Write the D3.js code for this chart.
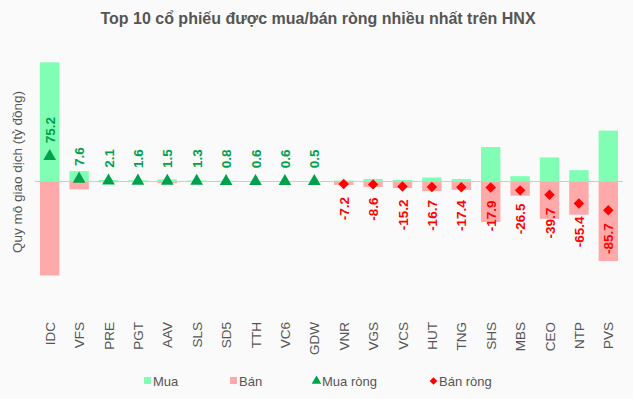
<!DOCTYPE html>
<html><head><meta charset="utf-8">
<script src="https://cdn.jsdelivr.net/npm/d3@7"></script>
<style>body{margin:0;background:#fafafa;}svg{display:block;font-family:"Liberation Sans",Arial,sans-serif;}</style>
</head><body><svg id="c" width="633" height="399"></svg>
<script>
const categories = ["IDC","VFS","PRE","PGT","AAV","SLS","SD5","TTH","VC6","GDW","VNR","VGS","VCS","HUT","TNG","SHS","MBS","CEO","NTP","PVS"];
const buyValues  = [356, 31, 4.5, 3.5, 6.5, 3, 2, 1.5, 1.5, 1.2, 3, 7.5, 4.5, 12, 7.5, 103, 16, 72, 34, 152];
const sellValues = [280.8, 23.4, 2.4, 1.9, 5, 1.7, 1.2, 0.9, 0.9, 0.7, 10.2, 16.1, 19.7, 28.7, 24.9, 120.9, 42.5, 111.7, 99.4, 237.7];
const netValues  = [75.2, 7.6, 2.1, 1.6, 1.5, 1.3, 0.8, 0.6, 0.6, 0.5, -7.2, -8.6, -15.2, -16.7, -17.4, -17.9, -26.5, -39.7, -65.4, -85.7];
const legendLabels = ["Mua","Bán","Mua ròng","Bán ròng"];
const title = "Top 10 cổ phiếu được mua/bán ròng nhiều nhất trên HNX";
const yTitle = "Quy mô giao dịch (tỷ đồng)";

const C = {buy:"#80ffb4", sell:"#ffaaaa", up:"#00a14b", down:"#ff0000", text:"#555"};
const svg = d3.select("#c");
const x = d3.scaleBand().domain(categories).range([35,623]).paddingInner(0.34).paddingOuter(0.17);
const y = d3.scaleLinear().domain([-360,360]).range([302,61]);

svg.append("text").attr("x",318).attr("y",24).attr("text-anchor","middle")
  .attr("font-size",16).attr("font-weight","bold").attr("fill",C.text).text(title);
svg.append("text").attr("transform","translate(22,172) rotate(-90)").attr("text-anchor","middle")
  .attr("font-size",13.5).attr("fill",C.text).text(yTitle);

const g = svg.append("g");
g.selectAll("rect.b").data(categories).join("rect").attr("class","b")
  .attr("x",d=>x(d)).attr("width",x.bandwidth())
  .attr("y",(d,i)=>y(buyValues[i])).attr("height",(d,i)=>y(0)-y(buyValues[i])).attr("fill",C.buy);
g.selectAll("rect.s").data(categories).join("rect").attr("class","s")
  .attr("x",d=>x(d)).attr("width",x.bandwidth())
  .attr("y",y(0)).attr("height",(d,i)=>y(-sellValues[i])-y(0)).attr("fill",C.sell);
g.append("line").attr("x1",35).attr("x2",623).attr("y1",y(0)).attr("y2",y(0)).attr("stroke","#ccc").attr("stroke-width",1);

const tri = d3.symbol().type(d3.symbolTriangle).size(70);
const dia = d3.symbol().type(d3.symbolSquare).size(55);
categories.forEach((c,i)=>{
  const v = netValues[i], cx = x(c)+x.bandwidth()/2, cy = y(v);
  if (v>=0) {
    g.append("path").attr("d",tri()).attr("transform",`translate(${cx},${cy})`).attr("fill",C.up);
    g.append("text").attr("transform",`translate(${cx+5},${cy-13}) rotate(-90)`).attr("text-anchor","start")
      .attr("font-size",13.5).attr("font-weight","bold").attr("fill",C.up).text(v.toFixed(1));
  } else {
    g.append("path").attr("d",dia()).attr("transform",`translate(${cx},${cy}) rotate(45)`).attr("fill",C.down);
    g.append("text").attr("transform",`translate(${cx+5},${cy+13}) rotate(-90)`).attr("text-anchor","end")
      .attr("font-size",13.5).attr("font-weight","bold").attr("fill",C.down).text(v.toFixed(1));
  }
});

const xa = svg.append("g");
categories.forEach(c=>{
  xa.append("text").attr("transform",`translate(${x(c)+x.bandwidth()/2+5},322) rotate(-90)`)
    .attr("text-anchor","end").attr("font-size",13.5).attr("fill",C.text).text(c);
});

const lg = svg.append("g").attr("font-size",13).attr("fill",C.text);
const lx = [144,230,313,430];
lg.append("rect").attr("x",lx[0]).attr("y",377).attr("width",7).attr("height",7).attr("fill",C.buy);
lg.append("rect").attr("x",lx[1]).attr("y",377).attr("width",7).attr("height",7).attr("fill",C.sell);
lg.append("path").attr("d",d3.symbol().type(d3.symbolTriangle).size(40)()).attr("transform",`translate(${lx[2]+3.5},381)`).attr("fill",C.up);
lg.append("path").attr("d",d3.symbol().type(d3.symbolSquare).size(30)()).attr("transform",`translate(${lx[3]+3.5},381) rotate(45)`).attr("fill",C.down);
legendLabels.forEach((t,i)=>{
  lg.append("text").attr("x",lx[i]+9).attr("y",386).text(t);
});
</script></body></html>
